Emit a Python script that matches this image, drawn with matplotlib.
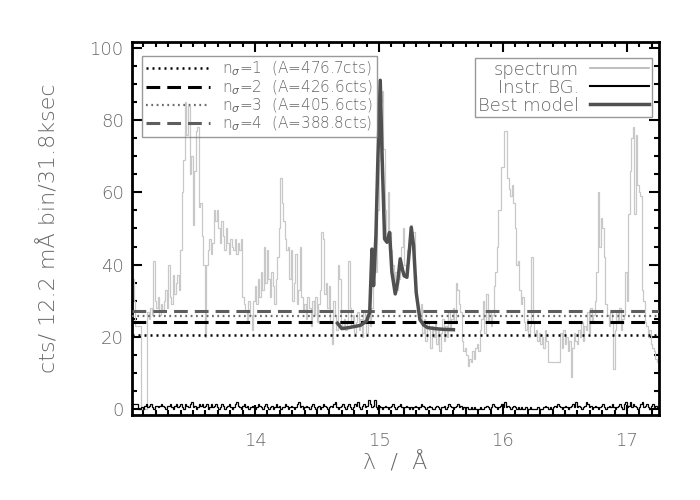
import numpy as np
import matplotlib
matplotlib.use("Agg")
import matplotlib.pyplot as plt
from matplotlib.lines import Line2D

# ---------------- data ----------------
lam_start = 13.008          # first bin edge (Angstrom)
bin_width = 0.0122          # 12.2 mA bins

spectrum = [
    36, 30, 23, 23, 23, 23, 0, 0, 0, 0,
    27, 25, 28, 26, 41, 30, 28, 31, 26, 29,
    27, 30, 33, 28, 40, 31, 29, 37, 32, 35,
    37, 33, 44, 60, 69, 85, 76, 84, 65, 70,
    51, 66, 77, 78, 56, 57, 48, 40, 20, 40,
    44, 47, 43, 46, 55, 52, 55, 50, 46, 52,
    48, 44, 50, 46, 43, 47, 45, 44, 47, 43,
    46, 44, 47, 31, 29, 27, 24, 30, 26, 22,
    30, 34, 29, 36, 31, 38, 33, 45, 35, 44,
    36, 31, 38, 34, 29, 36, 42, 50, 64, 57,
    52, 47, 44, 45, 36, 44, 30, 35, 43, 29,
    33, 45, 31, 27, 29, 25, 31, 28, 23, 30,
    26, 31, 24, 29, 33, 49, 47, 32, 35, 28,
    34, 24, 18, 30, 26, 22, 40, 36, 24, 23,
    25, 22, 24, 41, 28, 23, 26, 21, 24, 27,
    22, 25, 20, 27, 24, 21, 26, 23, 28, 36,
    44, 38, 55, 69, 85, 88, 72, 55, 47, 60,
    49, 44, 40, 35, 38, 33, 36, 42, 45, 50,
    40, 38, 44, 47, 51, 46, 49, 37, 30, 28,
    26, 29, 21, 25, 19, 24, 22, 17, 23, 20,
    24, 18, 22, 16, 21, 25, 19, 23, 20, 27,
    22, 25, 28, 24, 35, 33, 29, 27, 19, 16,
    17, 15, 12, 14, 13, 16, 14, 17, 18, 16,
    22, 25, 30, 21, 32, 24, 27, 23, 26, 34,
    38, 45, 55, 55, 67, 67, 77, 77, 64, 61,
    59, 62, 57, 50, 40, 41, 33, 29, 31, 24,
    22, 25, 20, 23, 42, 24, 21, 22, 19, 21,
    18, 20, 17, 22, 19, 13, 13, 13, 13, 13,
    13, 13, 13, 21, 17, 22, 18, 20, 16, 19,
    9, 17, 21, 19, 18, 22, 20, 24, 19, 23,
    22, 27, 21, 28, 24, 26, 30, 38, 60, 45,
    53, 50, 42, 29, 26, 23, 27, 24, 11, 22,
    27, 24, 28, 22, 25, 26, 38, 30, 54, 66,
    75, 78, 54, 76, 62, 60, 59, 33, 30, 24,
    23, 20, 22, 18, 17, 16, 14, 13,
]

instr_bg = [
    1.5, 1.5, 1.5, 1.5, 0, 0, 0.5, 0, 1, 1.5, 0.5, 1, 1.5, 0.5, 0, 1, 1, 0.5, 1, 1.5, 1, 0.5, 0, 1, 1, 1.5, 0.5, 0, 1,
    1.5, 0.5, 1, 1.5, 0.5, 0, 1.5, 1, 0.5, 1.5, 2, 0.5, 1, 0, 0.5, 1.5, 1, 1.5, 0.5, 1, 1.5, 0, 0.5, 1.5, 0.5, 1, 1.5, 0.5, 0,
    0.5, 1.5, 1, 0, 0.5, 1, 1.5, 0.5, 0, 0.5, 1.5, 2, 1, 0.5, 0, 1, 1.5, 0.5, 1, 0, 0.5, 1, 0.5, 0, 0.5, 1.5, 1, 0.5, 0,
    1, 1.5, 0.5, 0, 0.5, 1, 0, 0.5, 1.5, 0.5, 1, 0, 0.5, 0.5, 1.5, 1, 0, 0.5, 1, 0.5, 0, 0.5, 1.5, 2, 0.5, 1, 0, 0.5, 1,
    0.5, 0, 1, 1.5, 0.5, 0, 0.5, 1, 0, 0.5, 1.5, 1, 0.5, 0, 0.5, 1, 0.5, 1.5, 2, 0.5, 0, 0.5, 1, 1.5, 0.5, 0, 1, 1.5, 0.5,
    0, 0.5, 1.5, 1, 2, 0.5, 0, 1, 1.5, 0.5, 1, 2.5, 1.5, 0.5, 1, 2.5, 0.5, 0, 1, 0.5, 0, 0.5, 1, 0.5, 0, 0.5, 1, 1.5, 0.5,
    0, 0.5, 1, 1.5, 0.5, 0, 0.5, 1, 0.5, 0, 0.5, 0, 0.5, 1, 0.5, 0, 0.5, 1.5, 1, 0.5, 0, 0.5, 1, 0.5, 0, 0, 0.5, 1, 0.5,
    0, 0.5, 0.5, 1, 0, 0.5, 1.5, 1, 0.5, 0, 0.5, 1, 1.5, 0.5, 1, 0, 0.5, 0, 0.5, 0, 0, 0.5, 0, 0.5, 0, 0, 0, 0.5, 0,
    0, 0.5, 1, 0.5, 0, 0.5, 1.5, 1, 0.5, 0, 0.5, 1, 1.5, 0.5, 2, 0.5, 1, 0.5, 0, 0.5, 1, 0.5, 0, 0.5, 0, 0.5, 0, 0, 0.5,
    0, 0, 0.5, 0, 0, 0, 0, 0.5, 0, 0, 0, 0.5, 1, 0.5, 0, 0.5, 0, 0.5, 1, 0.5, 1.5, 1, 0.5, 0, 0.5, 1, 0.5, 0, 0.5,
    1, 1.5, 0.5, 2, 0.5, 1, 0.5, 0, 0.5, 1, 2, 1.5, 0.5, 1, 0, 0.5, 1, 0.5, 0, 0.5, 1, 1.5, 0.5, 0, 0.5, 1, 0.5, 1.5, 0.5,
    0, 0.5, 1, 1.5, 0.5, 0, 1.5, 2, 0.5, 1, 2, 0.5, 1.5, 1, 0.5, 0, 0.5, 1.5, 2, 0.5, 1, 1.5, 0.5, 0, 1, 1.5, 0.5, 1, 0.5,
]

model_lam = [14.665, 14.70, 14.76, 14.85, 14.90, 14.925, 14.943, 14.956, 14.975,
             14.991, 15.01, 15.025, 15.045, 15.064, 15.085, 15.104, 15.131, 15.15,
             15.171, 15.19, 15.203, 15.225, 15.245, 15.26, 15.279, 15.30, 15.33,
             15.36, 15.39, 15.45, 15.52, 15.60]
model_val = [23.8, 22.3, 22.6, 23.2, 24.4, 26.8, 44.3, 34.2, 48.0,
             69.3, 91.0, 70.0, 47.1, 46.2, 48.9, 37.9, 31.9, 35.0,
             41.6, 38.5, 36.9, 36.5, 44.0, 50.3, 45.2, 32.3, 24.8,
             23.3, 22.6, 22.3, 22.1, 22.0]

levels = [20.5, 24.2, 25.8, 27.3]
level_labels = [r"n$_\sigma$=1  (A=476.7cts)", r"n$_\sigma$=2  (A=426.6cts)",
                r"n$_\sigma$=3  (A=405.6cts)", r"n$_\sigma$=4  (A=388.8cts)"]

x_ticks = [14, 15, 16, 17]
y_ticks = [0, 20, 40, 60, 80, 100]

# ---------------- figure ----------------
plt.rcParams['font.family'] = ['DejaVu Sans']
plt.rcParams['font.weight'] = 200
plt.rcParams['axes.labelweight'] = 200
plt.rcParams['mathtext.fontset'] = 'dejavusans'
gray_txt = '#686868'

fig = plt.figure(figsize=(7, 5), dpi=100)
ax = fig.add_axes([0.1886, 0.17, 0.7528, 0.746])

spec_edges = lam_start + bin_width * np.arange(len(spectrum) + 1)
bg_edges = lam_start + bin_width * np.arange(len(instr_bg) + 1)

ax.stairs(spectrum, spec_edges, baseline=None, color='#c8c8c8', lw=0.9, zorder=2)
ax.stairs(instr_bg, bg_edges, baseline=None, color='black', lw=0.9, zorder=3)

styles = [dict(color='black', ls=(0, (0.8, 1.6)), lw=1.8),
          dict(color='black', ls=(0, (4.5, 2.3)), lw=2.2),
          dict(color='#6a6a6a', ls=(0, (0.8, 1.6)), lw=1.6),
          dict(color='#5e5e5e', ls=(0, (4.5, 2.3)), lw=2.2)]
lvl_handles = []
for lv, lab, st in zip(levels, level_labels, styles):
    h = ax.axhline(lv, label=lab, zorder=4, **st)
    lvl_handles.append(h)

ax.plot(model_lam, model_val, color='#505050', lw=2.5, zorder=5,
        solid_joinstyle='round')

ax.set_xlim(13.008, 17.258)
ax.set_ylim(-1.6, 101.6)
ax.set_xticks(x_ticks)
ax.set_yticks(y_ticks)
ax.set_xticks(np.arange(13.1, 17.26, 0.1), minor=True)
ax.set_yticks(np.arange(0, 101, 5), minor=True)

for s in ax.spines.values():
    s.set_linewidth(2.0)
ax.tick_params(which='both', direction='in', top=True, right=True,
               colors='black', labelcolor=gray_txt, width=1.5)
ax.tick_params(which='major', length=7)
ax.tick_params(which='minor', length=3.5)
ax.tick_params(axis='x', which='major', pad=12, labelsize=13)
ax.tick_params(axis='y', which='major', pad=6, labelsize=13)

ax.set_xlabel("λ  /  Å", color=gray_txt, fontsize=16, labelpad=2, fontweight=200)
ax.set_ylabel("cts/ 12.2 mÅ bin/31.8ksec", color=gray_txt, fontsize=16,
              labelpad=22, fontweight=200)

leg1 = ax.legend(handles=lvl_handles, loc='upper left',
                 bbox_to_anchor=(0.019, 0.9625), borderaxespad=0,
                 fontsize=11, frameon=True, fancybox=False,
                 facecolor='none', edgecolor='#808080', handlelength=4.2,
                 handletextpad=0.8, labelspacing=0.0, borderpad=0.25,
                 labelcolor=gray_txt)
leg1.get_frame().set_linewidth(1.0)
ax.add_artist(leg1)

proxy = [Line2D([], [], color='#b4b4b4', lw=1.2),
         Line2D([], [], color='black', lw=1.5),
         Line2D([], [], color='#505050', lw=2.5)]
leg2 = ax.legend(proxy, ["spectrum", "Instr. BG.", "Best model"],
                 loc='upper right', bbox_to_anchor=(0.9867, 0.957),
                 borderaxespad=0, fontsize=13, frameon=True, fancybox=False,
                 facecolor='none', edgecolor='#808080', markerfirst=False,
                 handlelength=3.3, handletextpad=0.6, labelspacing=0.0,
                 borderpad=0.15, labelcolor=gray_txt)
leg2.get_frame().set_linewidth(1.0)

fig.savefig("out.png", dpi=100)
